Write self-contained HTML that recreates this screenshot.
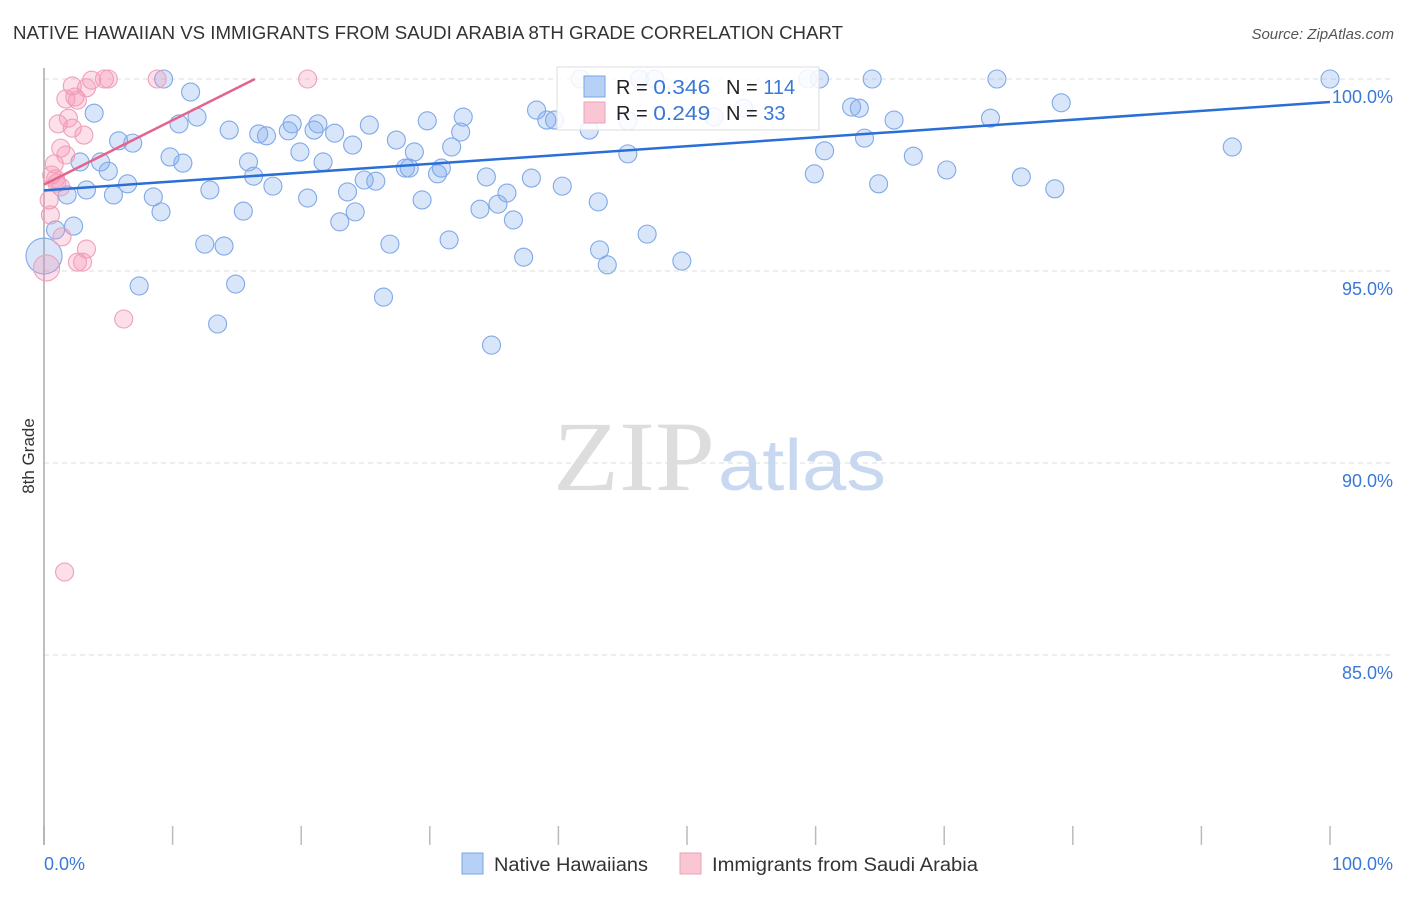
<!DOCTYPE html>
<html><head><meta charset="utf-8"><style>
body{margin:0;background:#fff;font-family:"Liberation Sans",sans-serif}
svg text{font-family:"Liberation Sans",sans-serif}
</style></head><body>
<svg width="1406" height="892" viewBox="0 0 1406 892">
<text x="13" y="39" font-size="18" fill="#333" textLength="830" lengthAdjust="spacingAndGlyphs">NATIVE HAWAIIAN VS IMMIGRANTS FROM SAUDI ARABIA 8TH GRADE CORRELATION CHART</text>
<text x="1394" y="39" font-size="15" fill="#555" font-style="italic" text-anchor="end">Source: ZipAtlas.com</text>
<g id="grid"></g>
<text x="553" y="490" font-size="100" fill="#ddd" textLength="162" lengthAdjust="spacingAndGlyphs" style="font-family:'Liberation Serif',serif">ZIP</text>
<text x="718" y="490" font-size="72" fill="#c8d8f0" textLength="168" lengthAdjust="spacingAndGlyphs">atlas</text>
<line x1="44" y1="68" x2="44" y2="845" stroke="#aaa" stroke-width="1.5"/>
<text transform="translate(34,456) rotate(-90)" font-size="17" fill="#333" text-anchor="middle">8th Grade</text>
<g id="pts"></g>
<g id="trend"></g>
<text x="44" y="870" font-size="18" fill="#3a78d8">0.0%</text>
<text x="1393" y="870" font-size="18" fill="#3a78d8" text-anchor="end">100.0%</text>
<g>
<rect x="557" y="67" width="262" height="63" fill="rgba(255,255,255,0.85)" stroke="#ddd"/>
<rect x="584" y="76" width="21" height="21" fill="#b7d0f5" stroke="#7aa6e6"/>
<rect x="584" y="102" width="21" height="21" fill="#f9c6d4" stroke="#eda0b7"/>
<text x="616" y="94" font-size="20" fill="#222">R = <tspan fill="#3a78d8" textLength="57" lengthAdjust="spacingAndGlyphs">0.346</tspan></text>
<text x="726" y="94" font-size="20" fill="#222">N = <tspan fill="#3a78d8">114</tspan></text>
<text x="616" y="120" font-size="20" fill="#222">R = <tspan fill="#3a78d8" textLength="57" lengthAdjust="spacingAndGlyphs">0.249</tspan></text>
<text x="726" y="120" font-size="20" fill="#222">N = <tspan fill="#3a78d8"> 33</tspan></text>
</g>
<g>
<rect x="462" y="853" width="21" height="21" fill="#b7d0f5" stroke="#7aa6e6"/>
<text x="494" y="871" font-size="19" fill="#333" textLength="154" lengthAdjust="spacingAndGlyphs">Native Hawaiians</text>
<rect x="680" y="853" width="21" height="21" fill="#f9c6d4" stroke="#eda0b7"/>
<text x="712" y="871" font-size="19" fill="#333" textLength="266" lengthAdjust="spacingAndGlyphs">Immigrants from Saudi Arabia</text>
</g>
</svg>
<script>
const yTicks=[100,95,90,85];
const yTickLabels=["100.0%","95.0%","90.0%","85.0%"];
const xTicks=[0,10,20,30,40,50,60,70,80,90,100];
const blueX=[9.3,11.4,3.9,10.5,11.9,5.8,6.9,14.4,16.7,17.3,19.0,19.3,21.0,21.3,22.6,19.9,21.7,24.0,25.3,27.4,29.8,32.6,32.4,31.7,28.8,28.1,28.4,30.6,30.9,24.9,25.8,23.6,20.5,17.8,16.3,15.9,12.9,10.8,9.8,8.5,9.1,15.5,23.0,24.2,29.4,34.4,33.9,35.3,36.0,36.5,37.9,38.3,39.1,39.7,40.3,43.1,42.4,45.4,45.4,41.7,46.3,47.5,52.1,54.4,59.4,60.3,62.8,63.4,60.7,63.8,66.1,64.4,67.6,70.2,59.9,64.9,73.6,74.1,76.0,79.1,78.6,92.4,100,0.9,2.3,1.8,3.3,2.8,4.4,5.0,6.5,5.4,7.4,12.5,14.0,14.9,13.5,26.4,26.9,31.5,34.8,37.3,43.2,43.8,46.9,49.6,0];
const blueY=[100,99.66,99.11,98.83,99.01,98.39,98.33,98.67,98.57,98.52,98.65,98.83,98.67,98.83,98.59,98.10,97.84,98.28,98.80,98.41,98.91,99.01,98.62,98.23,98.10,97.68,97.68,97.53,97.68,97.37,97.34,97.06,96.90,97.21,97.47,97.84,97.11,97.81,97.97,96.93,96.54,96.56,96.28,96.54,96.85,97.45,96.61,96.74,97.03,96.33,97.42,99.19,98.93,98.93,97.21,96.80,98.67,98.05,98.91,100,100,100,99.01,99.24,100,100,99.27,99.24,98.13,98.46,98.93,100,97.99,97.63,97.53,97.27,98.98,100,97.45,99.38,97.14,98.23,100,96.07,96.17,96.98,97.11,97.84,97.84,97.60,97.27,96.98,94.61,95.70,95.65,94.66,93.62,94.32,95.70,95.81,93.07,95.36,95.55,95.16,95.96,95.26,95.39];
const pinkX=[1.1,2.2,3.7,4.7,5.0,8.8,20.5,2.4,1.7,2.6,3.3,1.9,2.2,3.1,1.3,0.8,0.6,1.0,1.3,0.4,0.5,1.4,3.3,2.6,3.0,0.2,6.2,1.6,0.9,1.7];
const pinkY=[98.83,99.82,99.97,100,100,100,100,99.53,99.48,99.45,99.77,98.98,98.72,98.54,98.20,97.79,97.50,97.29,97.19,96.85,96.46,95.89,95.57,95.23,95.23,95.08,93.75,87.16,97.40,98.02];
const blueTrend=[[0,97.1],[100,99.4]];
const pinkTrend=[[0,97.25],[16.4,100]];
const NS='http://www.w3.org/2000/svg';
const xs=v=>44+v*12.86, ys=v=>79+(100-v)*38.4;
function mk(t,a,p){const e=document.createElementNS(NS,t);for(const k in a)e.setAttribute(k,a[k]);p.appendChild(e);return e;}
const grid=document.getElementById('grid');
yTicks.forEach((t,i)=>{
 const l=mk('line',{x1:44,x2:1393,y1:ys(t),y2:ys(t),stroke:'#ddd','stroke-dasharray':'5,4'},grid);
 
 
 const tx=mk('text',{x:1393,y:ys(t)+24,'font-size':18,fill:'#3a78d8','text-anchor':'end'},grid);
 tx.textContent=yTickLabels[i];
 
 
});
xTicks.forEach(t=>{
 const l=mk('line',{x1:xs(t),x2:xs(t),y1:826,y2:845,stroke:'#bbb','stroke-width':1.5},grid);
 
 
});
const pts=document.getElementById('pts');
blueX.forEach((x,i)=>{
 const big=(i===blueX.length-1);
 const c=mk('circle',{cx:xs(x),cy:ys(blueY[i]),r:big?18:9,fill:'rgba(130,172,238,0.3)',stroke:'#7fa9e8','stroke-width':1.1},pts);
 
 
});
pinkX.forEach((x,i)=>{
 const big=(i===25);
 const c=mk('circle',{cx:xs(x),cy:ys(pinkY[i]),r:big?13:9,fill:'rgba(245,150,178,0.3)',stroke:'#f0a0b8','stroke-width':1.1},pts);
 
 
});
const tr=document.getElementById('trend');
const bl=mk('line',{x1:xs(blueTrend[0][0]),y1:ys(blueTrend[0][1]),x2:xs(blueTrend[1][0]),y2:ys(blueTrend[1][1]),stroke:'#2a6fd6','stroke-width':2.5},tr);


const pl=mk('line',{x1:xs(pinkTrend[0][0]),y1:ys(pinkTrend[0][1]),x2:xs(pinkTrend[1][0]),y2:ys(pinkTrend[1][1]),stroke:'#e4648e','stroke-width':2.5},tr);


</script>
</body></html>
